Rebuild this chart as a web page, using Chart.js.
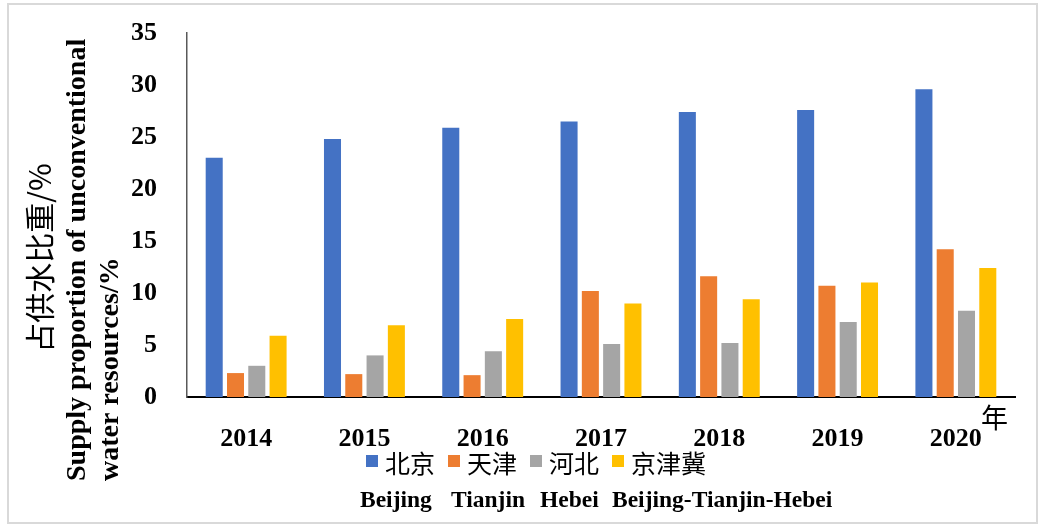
<!DOCTYPE html>
<html><head><meta charset="utf-8">
<script src="https://cdn.jsdelivr.net/npm/chart.js@4/dist/chart.umd.min.js"></script>
<style>html,body{margin:0;padding:0;background:#fff}#wrap{position:relative;width:1042px;height:524px}</style>
</head><body><div id="wrap"><canvas id="c" width="1042" height="524"></canvas></div>
<script>
const years = ['2014', '2015', '2016', '2017', '2018', '2019', '2020'];
const beijing = [23.0, 24.8, 25.9, 26.5, 27.4, 27.6, 29.6];
const tianjin = [2.3, 2.2, 2.1, 10.2, 11.6, 10.7, 14.2];
const hebei = [3.0, 4.0, 4.4, 5.1, 5.2, 7.2, 8.3];
const jingjinji = [5.9, 6.9, 7.5, 9.0, 9.4, 11.0, 12.4];
const seriesNames = ['北京', '天津', '河北', '京津冀'];
const seriesNamesEn = ['Beijing', 'Tianjin', 'Hebei', 'Beijing-Tianjin-Hebei'];
const seriesColors = ['#4472C4', '#ED7D31', '#A5A5A5', '#FFC000'];
const yMin = 0, yMax = 35, yStep = 5;
const yTitleZh = '占供水比重/%';
const yTitleEn = ['Supply proportion of unconventional', 'water resources/%'];
const xUnit = '年';

const serif = "'Liberation Serif', 'Times New Roman', serif";
const cjk = "'Noto Sans CJK SC', sans-serif";

const extras = {
  id: 'extras',
  afterDraw(chart) {
    const ctx = chart.ctx;
    ctx.save();
    // outer frame
    ctx.strokeStyle = '#d9d9d9';
    ctx.lineWidth = 2;
    ctx.strokeRect(8, 4, 1029, 519);

    // y-axis titles (rotated)
    ctx.fillStyle = '#000';
    ctx.save();
    ctx.translate(40, 258);
    ctx.rotate(-Math.PI / 2);
    ctx.font = "30px " + cjk;
    ctx.textAlign = 'center';
    ctx.textBaseline = 'middle';
    ctx.fillText(yTitleZh, 0, 0);
    ctx.restore();

    ctx.font = "bold 28px " + serif;
    ctx.textAlign = 'left';
    ctx.textBaseline = 'middle';
    const enX = [78, 111];
    yTitleEn.forEach((t, i) => {
      ctx.save();
      ctx.translate(enX[i], 481);
      ctx.rotate(-Math.PI / 2);
      ctx.fillText(t, 0, 0);
      ctx.restore();
    });

    // x unit
    ctx.font = "27px " + cjk;
    ctx.textAlign = 'left';
    ctx.textBaseline = 'middle';
    ctx.fillText(xUnit, 981, 418);

    // legend
    let x = 366;
    const boxY = 455, box = 12;
    ctx.font = "25px " + cjk;
    ctx.textBaseline = 'middle';
    const itemX = [];
    chart.data.datasets.forEach((ds) => {
      itemX.push(x);
      ctx.fillStyle = ds.backgroundColor;
      ctx.fillRect(x, boxY, box, box);
      ctx.fillStyle = '#000';
      const tx = x + box + 7;
      ctx.fillText(ds.label, tx, 463);
      x = tx + ctx.measureText(ds.label).width + 13;
    });
    // english legend line
    ctx.font = "bold 23.5px " + serif;
    ctx.textBaseline = 'alphabetic';
    const offs = [-6, 3, 10, 0];
    seriesNamesEn.forEach((t, i) => {
      ctx.fillText(t, itemX[i] + offs[i], 507);
    });
    ctx.restore();
  }
};

const data = [beijing, tianjin, hebei, jingjinji];
new Chart(document.getElementById('c'), {
  type: 'bar',
  data: {
    labels: years,
    datasets: data.map((d, i) => ({
      label: seriesNames[i],
      data: d,
      backgroundColor: seriesColors[i],
      borderWidth: 0,
      categoryPercentage: 0.72,
      barPercentage: 0.8
    }))
  },
  options: {
    responsive: false,
    animation: false,
    devicePixelRatio: 1,
    layout: { padding: { top: 33, right: 27, left: 0, bottom: 0 } },
    plugins: { legend: { display: false }, tooltip: { enabled: false } },
    scales: {
      x: {
        grid: { display: false, drawTicks: false },
        border: { display: true, color: '#000', width: 2 },
        ticks: { color: '#000', font: { family: serif, size: 26, weight: 'bold' }, padding: 27, maxRotation: 0 },
        afterFit: (s) => { s.height = 127; s.paddingLeft = 0; s.paddingRight = 0; }
      },
      y: {
        min: yMin, max: yMax,
        grid: { display: false, drawTicks: false },
        border: { display: true, color: '#595959', width: 1.5 },
        ticks: { stepSize: yStep, color: '#000', font: { family: serif, size: 26, weight: 'bold' }, padding: 30 },
        afterFit: (s) => { s.width = 187; s.paddingTop = 0; s.paddingBottom = 0; }
      }
    }
  },
  plugins: [extras]
});
</script></body></html>
